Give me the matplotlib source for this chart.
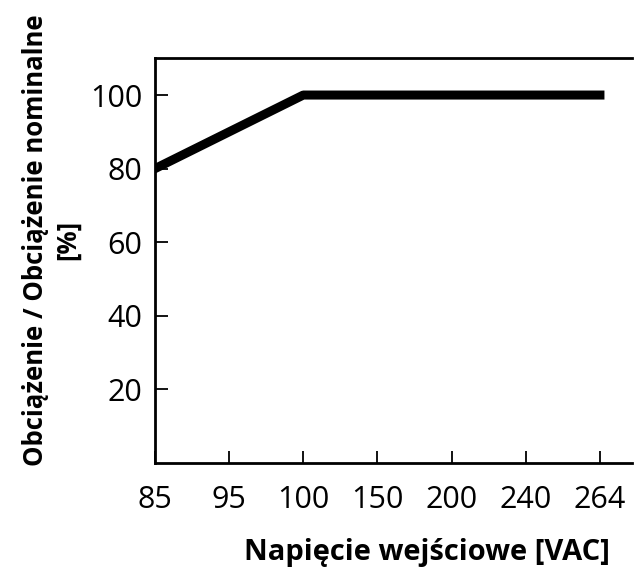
import matplotlib
matplotlib.use("Agg")
import matplotlib.pyplot as plt

# categorical voltage axis, evenly spaced
voltages = ["85", "95", "100", "150", "200", "240", "264"]
load_pos = [0, 2, 6]          # indices into voltages
load_pct = [80, 100, 100]
y_ticks = [20, 40, 60, 80, 100]

plt.rcParams['font.family'] = ['Open Sans', 'DejaVu Sans']

fig = plt.figure(figsize=(6.35, 5.71), dpi=100)
ax = fig.add_axes([0.244, 0.189, 0.751, 0.709])

ax.plot(load_pos, load_pct, color='black', linewidth=6.5,
        solid_capstyle='projecting')

ax.set_xlim(0, 6.43)
ax.set_ylim(0, 110)
ax.set_xticks(range(len(voltages)))
ax.set_xticklabels(voltages)
ax.set_yticks(y_ticks)

ax.spines['right'].set_visible(False)
for s in ['left', 'bottom', 'top']:
    ax.spines[s].set_linewidth(2)

ax.tick_params(axis='both', direction='in', length=9, width=1.3, labelsize=22)
ax.tick_params(axis='x', pad=16)
ax.tick_params(axis='y', pad=9)

ax.set_xlabel("Napięcie wejściowe [VAC]", fontsize=21, fontweight='bold')
ax.xaxis.set_label_coords(0.57, -0.185)
ax.set_ylabel("Obciążenie / Obciążenie nominalne\n[%]", fontsize=18.5,
              fontweight='bold', linespacing=1.25)
ax.yaxis.set_label_coords(-0.155, 0.55)

fig.savefig("out.png", dpi=100)
